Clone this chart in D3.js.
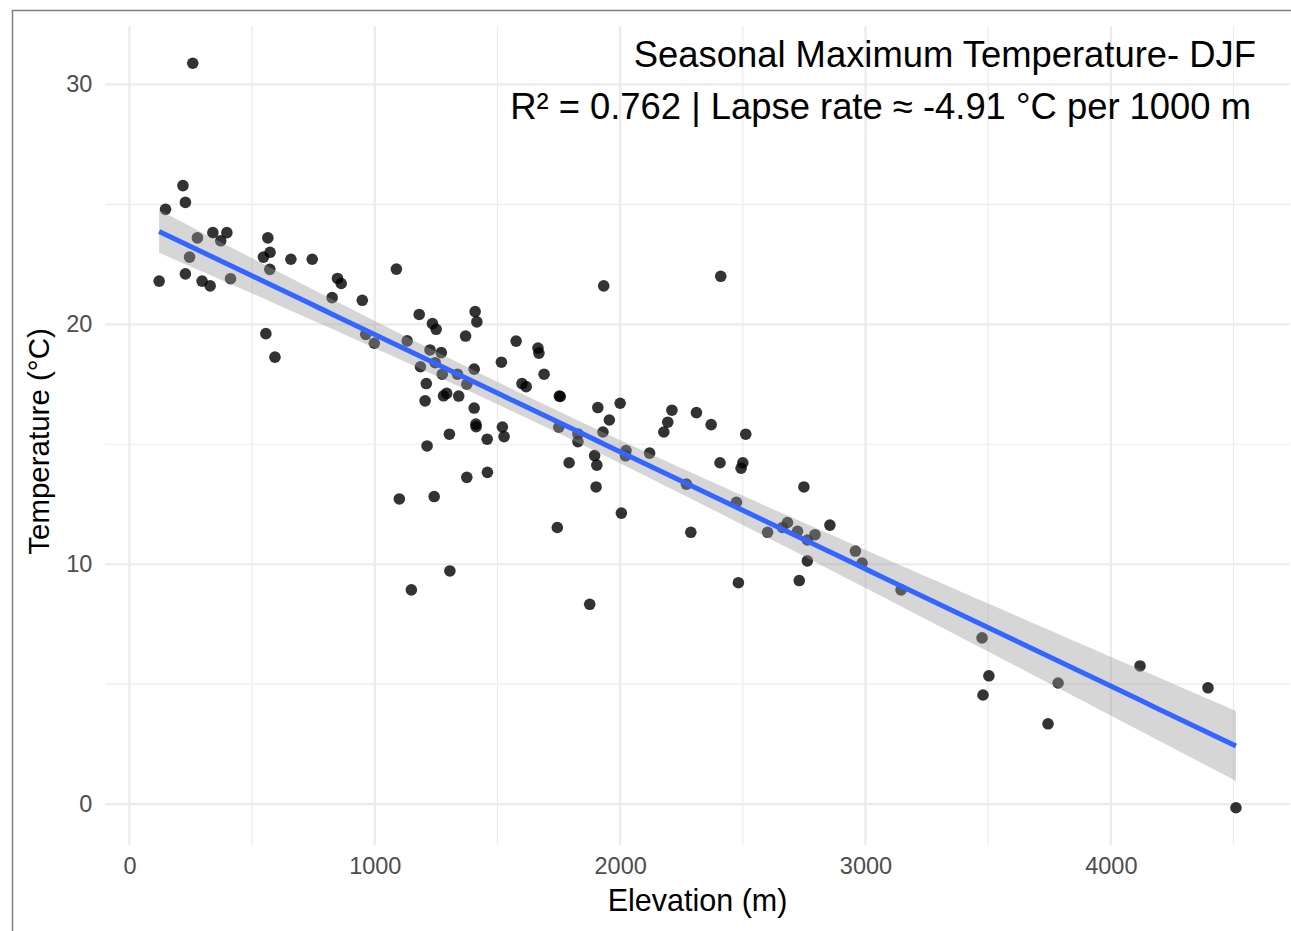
<!DOCTYPE html>
<html>
<head>
<meta charset="utf-8">
<script src="https://cdn.jsdelivr.net/npm/d3@7"></script>
<style>
  body { margin: 0; background: #fff; }
  svg { display: block; font-family: "Liberation Sans", Arial, sans-serif; }
</style>
</head>
<body>
<div id="container"></div>
<script>
/* DATA */
const elevation = [121, 147, 218, 228, 228, 258, 245, 277, 296, 329, 340, 372, 397, 412, 546, 564, 573, 572, 556, 593,
  658, 745, 826, 848, 863, 949, 963, 998, 1088, 1100, 1132, 1149, 1181, 1186, 1210, 1205, 1213, 1225, 1235, 1250,
  1242, 1271, 1246, 1275, 1280, 1293, 1304, 1306, 1337, 1342, 1370, 1375, 1375, 1405, 1409, 1416, 1405, 1412, 1413, 1458,
  1459, 1516, 1520, 1527, 1576, 1600, 1617, 1665, 1669, 1690, 1752, 1756, 1744, 1750, 1792, 1828, 1828, 1876, 1896, 1905,
  1902, 1909, 1930, 1933, 1956, 2000, 2005, 2024, 2022, 2120, 2178, 2194, 2211, 2270, 2288, 2311, 2371, 2407, 2410, 2474,
  2482, 2493, 2500, 2512, 2601, 2662, 2682, 2723, 2763, 2794, 2749, 2855, 2763, 2730, 2959, 2986, 3145, 3475, 3503, 3479,
  3744, 3785, 4119, 4396, 4510];
const temperature = [21.80, 24.79, 25.78, 25.08, 22.10, 30.88, 22.80, 23.60, 21.80, 21.60, 23.82, 23.48, 23.82, 21.90, 22.80, 23.60, 23.00, 22.29, 19.61, 18.63,
  22.71, 22.71, 21.11, 21.91, 21.70, 21.00, 19.58, 19.21, 22.30, 12.72, 19.31, 8.93, 20.41, 18.23, 17.53, 16.81, 14.93, 18.93, 20.03, 19.79,
  12.82, 18.82, 18.40, 17.92, 17.02, 17.12, 15.42, 9.72, 17.92, 17.01, 19.51, 17.50, 13.62, 18.13, 20.53, 20.10, 16.51, 15.84, 15.73, 15.21,
  13.83, 18.42, 15.72, 15.32, 19.30, 17.53, 17.40, 19.01, 18.80, 17.92, 17.01, 16.99, 11.53, 15.71, 14.23, 15.43, 15.11, 8.33, 14.53, 14.13,
  13.22, 16.53, 15.51, 21.60, 16.01, 16.71, 12.13, 14.74, 14.52, 14.63, 15.51, 15.92, 16.42, 13.34, 11.33, 16.32, 15.82, 14.23, 22.00, 12.58,
  9.23, 14.00, 14.23, 15.42, 11.33, 11.53, 11.74, 11.37, 11.01, 11.23, 13.22, 11.63, 10.14, 9.32, 10.55, 10.05, 8.93, 6.93, 5.35, 4.55,
  3.35, 5.05, 5.76, 4.85, -0.15];

const xTicks = [0, 1000, 2000, 3000, 4000];
const xMinor = [500, 1500, 2500, 3500, 4500];
const yTicks = [0, 10, 20, 30];
const yMinor = [5, 15, 25];

const titleText = "Seasonal Maximum Temperature- DJF";
const subtitleText = "R² = 0.762 | Lapse rate ≈ -4.91 °C per 1000 m";
const xLabel = "Elevation (m)";
const yLabel = "Temperature (°C)";

/* CONSTANTS */
const width = 1291, height = 931;
const panel = { left: 105.3, right: 1289.8, top: 26, bottom: 845 };

const data = elevation.map((e, i) => ({ x: e, y: temperature[i] }));

const svg = d3.select("#container").append("svg")
  .attr("width", width)
  .attr("height", height);

/* SCALES (ggplot style 5% expansion) */
const xExt = d3.extent(elevation), yExt = d3.extent(temperature);
const xPad = (xExt[1] - xExt[0]) * 0.05, yPad = (yExt[1] - yExt[0]) * 0.05;

const xScale = d3.scaleLinear()
  .domain([xExt[0] - xPad, xExt[1] + xPad])
  .range([panel.left, panel.right]);

const yScale = d3.scaleLinear()
  .domain([yExt[0] - yPad, yExt[1] + yPad])
  .range([panel.bottom, panel.top]);

/* frame */
svg.append("path")
  .attr("d", `M12.5,${height} L12.5,10.5 L${width},10.5`)
  .attr("fill", "none")
  .attr("stroke", "#7f7f7f")
  .attr("stroke-width", 1.5);

/* GRID */
const grid = svg.append("g");
grid.selectAll(".vminor").data(xMinor).join("line")
  .attr("x1", d => xScale(d)).attr("x2", d => xScale(d))
  .attr("y1", panel.top).attr("y2", panel.bottom)
  .attr("stroke", "#ebebeb").attr("stroke-width", 1.2);
grid.selectAll(".hminor").data(yMinor).join("line")
  .attr("y1", d => yScale(d)).attr("y2", d => yScale(d))
  .attr("x1", panel.left).attr("x2", panel.right)
  .attr("stroke", "#ebebeb").attr("stroke-width", 1.2);
grid.selectAll(".vmajor").data(xTicks).join("line")
  .attr("x1", d => xScale(d)).attr("x2", d => xScale(d))
  .attr("y1", panel.top).attr("y2", panel.bottom)
  .attr("stroke", "#ebebeb").attr("stroke-width", 2.2);
grid.selectAll(".hmajor").data(yTicks).join("line")
  .attr("y1", d => yScale(d)).attr("y2", d => yScale(d))
  .attr("x1", panel.left).attr("x2", panel.right)
  .attr("stroke", "#ebebeb").attr("stroke-width", 2.2);

/* AXES (labels only, theme_minimal) */
const xAxis = svg.append("g")
  .attr("transform", `translate(0, ${panel.bottom})`)
  .call(d3.axisBottom(xScale).tickValues(xTicks).tickFormat(d3.format("d")).tickSize(0).tickPadding(12));
const yAxis = svg.append("g")
  .attr("transform", `translate(${panel.left}, 0)`)
  .call(d3.axisLeft(yScale).tickValues(yTicks).tickFormat(d3.format("d")).tickSize(0).tickPadding(13));
[xAxis, yAxis].forEach(a => {
  a.select(".domain").remove();
  a.selectAll("text")
    .attr("fill", "#4d4d4d")
    .style("font-size", "23.5px")
    .style("font-family", "'Liberation Sans', Arial, sans-serif");
});

/* POINTS */
svg.append("g").selectAll("circle")
  .data(data)
  .join("circle")
  .attr("cx", d => xScale(d.x))
  .attr("cy", d => yScale(d.y))
  .attr("r", 5.8)
  .attr("fill", "#000")
  .attr("fill-opacity", 0.8);

/* LINEAR FIT + 95% CI */
const n = data.length;
const xbar = d3.mean(elevation), ybar = d3.mean(temperature);
const sxx = d3.sum(elevation, v => (v - xbar) ** 2);
const sxy = d3.sum(data, d => (d.x - xbar) * (d.y - ybar));
const slope = sxy / sxx, intercept = ybar - slope * xbar;
const sse = d3.sum(data, d => (d.y - (intercept + slope * d.x)) ** 2);
const s = Math.sqrt(sse / (n - 2));
const tq = 1.98;

const fitX = d3.range(80).map(i => xExt[0] + (xExt[1] - xExt[0]) * i / 79);
const fit = fitX.map(x => {
  const yhat = intercept + slope * x;
  const se = s * Math.sqrt(1 / n + (x - xbar) ** 2 / sxx);
  return { x, y: yhat, lo: yhat - tq * se, hi: yhat + tq * se };
});

svg.append("path")
  .datum(fit)
  .attr("d", d3.area().x(d => xScale(d.x)).y0(d => yScale(d.lo)).y1(d => yScale(d.hi)))
  .attr("fill", "#999999")
  .attr("fill-opacity", 0.4);

svg.append("path")
  .datum(fit)
  .attr("d", d3.line().x(d => xScale(d.x)).y(d => yScale(d.y)))
  .attr("fill", "none")
  .attr("stroke", "#3366FF")
  .attr("stroke-width", 5);

/* TITLES */
svg.append("text")
  .attr("x", 1256).attr("y", 67)
  .attr("text-anchor", "end")
  .style("font-size", "36.4px")
  .attr("fill", "#000")
  .text(titleText);

svg.append("text")
  .attr("x", 1251).attr("y", 119)
  .attr("text-anchor", "end")
  .style("font-size", "36.4px")
  .attr("fill", "#000")
  .text(subtitleText);

svg.append("text")
  .attr("x", (panel.left + panel.right) / 2).attr("y", 911)
  .attr("text-anchor", "middle")
  .style("font-size", "30.5px")
  .attr("fill", "#000")
  .text(xLabel);

svg.append("text")
  .attr("transform", `translate(49, ${(panel.top + panel.bottom) / 2 + 6}) rotate(-90)`)
  .attr("text-anchor", "middle")
  .style("font-size", "29.5px")
  .attr("fill", "#000")
  .text(yLabel);
</script>
</body>
</html>
